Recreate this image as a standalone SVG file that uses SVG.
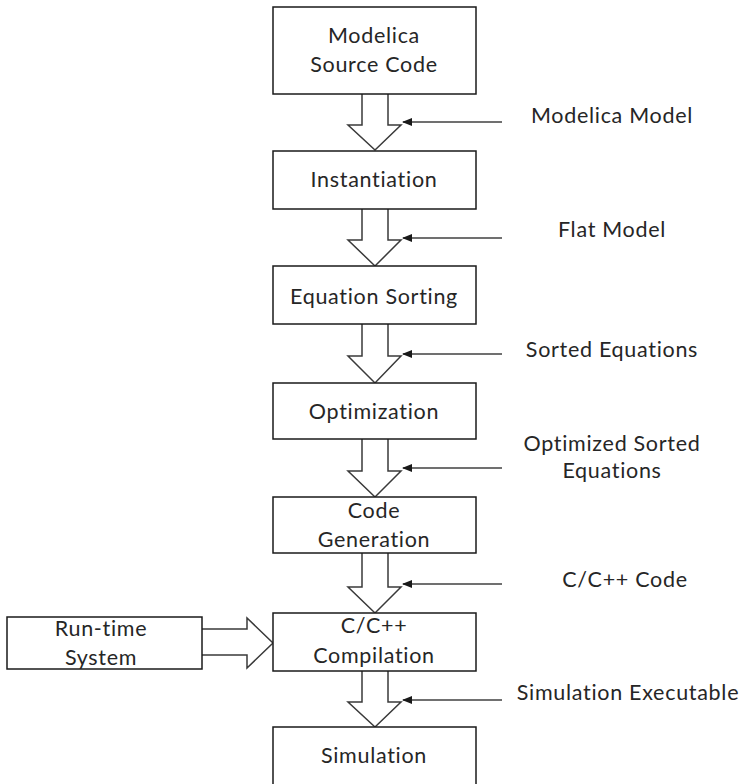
<svg xmlns="http://www.w3.org/2000/svg" width="745" height="784" viewBox="0 0 745 784">
  <style>
    .box { fill: #ffffff; stroke: #1a1a1a; stroke-width: 1.5; }
    .block { fill: #ffffff; stroke: #3a3a3a; stroke-width: 1.5; stroke-linejoin: miter; }
    .thin { stroke: #404040; stroke-width: 1.5; fill: none; }
    .t { font-family: Lato, "Open Sans", "Liberation Sans", sans-serif; font-size: 21.5px; fill: #262626; text-anchor: middle; letter-spacing: 0.7px; }
  </style>
  <defs>
    <marker id="tip" markerWidth="10" markerHeight="8" refX="9" refY="4" orient="auto" markerUnits="userSpaceOnUse">
      <path d="M0,0 L10,4 L0,8 Z" fill="#1a1a1a"/>
    </marker>
  </defs>

  <rect width="745" height="784" fill="#ffffff"/>

  <!-- flow connectors: hollow block arrows and incoming data arrows -->
  <g id="connectors">
    <path class="block" d="M362,94 V125 H348 L375,150 L401,125 H388 V94"/>
    <path class="block" d="M362,209 V240 H348 L375,266 L401,240 H388 V209"/>
    <path class="block" d="M362,324 V356 H348 L375,383 L401,356 H388 V324"/>
    <path class="block" d="M362,439 V471 H348 L375,497 L401,471 H388 V439"/>
    <path class="block" d="M362,553 V587 H348 L375,613 L401,587 H388 V553"/>
    <path class="block" d="M362,671 V702 H348 L375,727 L401,702 H388 V671"/>
    <path class="block" d="M202,629 H247 V618 L273,643 L247,668 V655 H202"/>

    <line class="thin" x1="502" y1="122" x2="403" y2="122" marker-end="url(#tip)"/>
    <line class="thin" x1="502" y1="238" x2="403" y2="238" marker-end="url(#tip)"/>
    <line class="thin" x1="502" y1="354" x2="403" y2="354" marker-end="url(#tip)"/>
    <line class="thin" x1="502" y1="468" x2="403" y2="468" marker-end="url(#tip)"/>
    <line class="thin" x1="502" y1="584" x2="403" y2="584" marker-end="url(#tip)"/>
    <line class="thin" x1="502" y1="700" x2="403" y2="700" marker-end="url(#tip)"/>
  </g>

  <g id="source">
    <rect class="box" x="273" y="7" width="203" height="87"/>
    <text class="t" x="374" y="43">Modelica</text>
    <text class="t" x="374" y="72">Source Code</text>
  </g>
  <g id="instantiation">
    <rect class="box" x="273" y="151" width="203" height="58"/>
    <text class="t" x="374" y="187">Instantiation</text>
  </g>
  <g id="sorting">
    <rect class="box" x="273" y="266" width="203" height="58"/>
    <text class="t" x="374" y="304">Equation Sorting</text>
  </g>
  <g id="optimization">
    <rect class="box" x="273" y="383" width="203" height="56"/>
    <text class="t" x="374" y="419">Optimization</text>
  </g>
  <g id="codegen">
    <rect class="box" x="273" y="497" width="203" height="56"/>
    <text class="t" x="374" y="518">Code</text>
    <text class="t" x="374" y="547">Generation</text>
  </g>
  <g id="compilation">
    <rect class="box" x="273" y="613" width="203" height="58"/>
    <text class="t" x="374" y="633">C/C++</text>
    <text class="t" x="374" y="663">Compilation</text>
  </g>
  <g id="simulation">
    <rect class="box" x="273" y="727" width="203" height="70"/>
    <text class="t" x="374" y="763">Simulation</text>
  </g>
  <g id="runtime">
    <rect class="box" x="7" y="617" width="195" height="52"/>
    <text class="t" x="101" y="636">Run-time</text>
    <text class="t" x="101" y="665">System</text>
  </g>

  <g id="labels">
    <text class="t" x="612" y="123">Modelica Model</text>
    <text class="t" x="612" y="237">Flat Model</text>
    <text class="t" x="612" y="357">Sorted Equations</text>
    <text class="t" x="612" y="451">Optimized Sorted</text>
    <text class="t" x="612" y="478">Equations</text>
    <text class="t" x="625" y="587">C/C++ Code</text>
    <text class="t" x="628" y="700">Simulation Executable</text>
  </g>
</svg>
